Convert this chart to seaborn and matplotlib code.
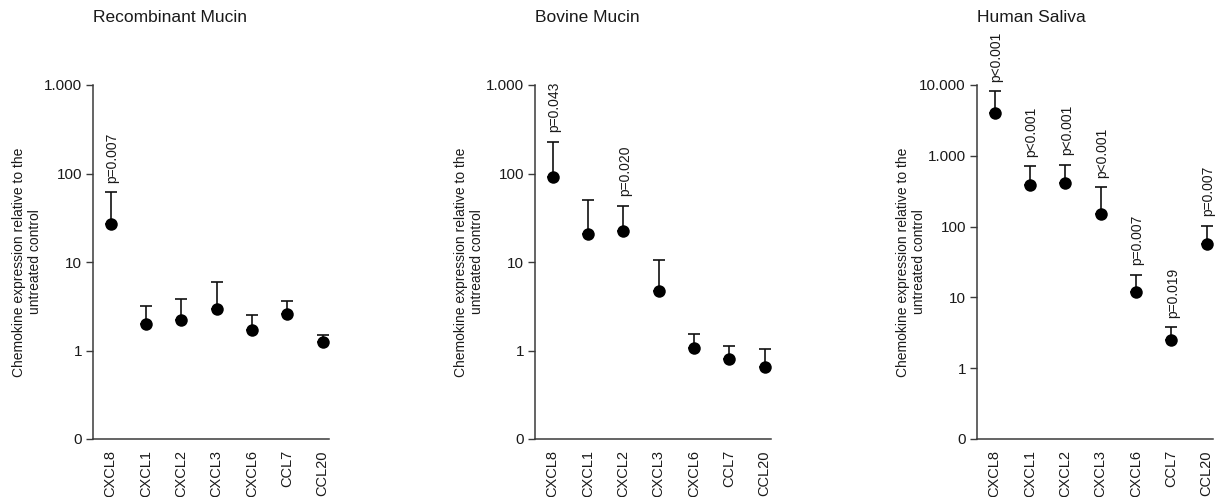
import numpy as np
import pandas as pd
import matplotlib
matplotlib.use("Agg")
import matplotlib.pyplot as plt
from matplotlib.ticker import NullLocator
import seaborn as sns

# ---------------- data ----------------
categories = ["CXCL8", "CXCL1", "CXCL2", "CXCL3", "CXCL6", "CCL7", "CCL20"]

recomb_mean = [27, 2.0, 2.2, 2.95, 1.71, 2.6, 1.25]
recomb_upper = [61, 3.2, 3.8, 5.9, 2.5, 3.6, 1.48]
recomb_p = ["p=0.007", "", "", "", "", "", ""]

bovine_mean = [92, 20.8, 22.4, 4.66, 1.08, 0.81, 0.65]
bovine_upper = [229, 50, 43, 10.5, 1.55, 1.11, 1.03]
bovine_p = ["p=0.043", "", "p=0.020", "", "", "", ""]

saliva_mean = [4070, 382, 417, 152, 11.9, 2.5, 57]
saliva_upper = [8150, 707, 747, 358, 20.6, 3.78, 102]
saliva_p = ["p<0.001", "p<0.001", "p<0.001", "p<0.001", "p=0.007", "p=0.019", "p=0.007"]

titles = ["Recombinant Mucin", "Bovine Mucin", "Human Saliva"]

ticks_small = [0.1, 1, 10, 100, 1000]
ticklabels_small = ["0", "1", "10", "100", "1.000"]
ticks_large = [0.1, 1, 10, 100, 1000, 10000]
ticklabels_large = ["0", "1", "10", "100", "1.000", "10.000"]

ylabel = "Chemokine expression relative to the\nuntreated control"

# ---------------- style ----------------
sns.set_theme(style="ticks")
plt.rcParams["font.family"] = ["Liberation Sans", "DejaVu Sans"]
TXT = "#1a1a1a"
AX = "#3a3a3a"

W, H = 1218, 497
fig = plt.figure(figsize=(W / 100, H / 100), dpi=100)

lefts = [93, 535, 977]
ax_w = 236
ax_top, ax_bot = 85, 439

panels = [
    (recomb_mean, recomb_upper, recomb_p, ticks_small, ticklabels_small),
    (bovine_mean, bovine_upper, bovine_p, ticks_small, ticklabels_small),
    (saliva_mean, saliva_upper, saliva_p, ticks_large, ticklabels_large),
]

for i, (mean, upper, plab, tks, tlabs) in enumerate(panels):
    ax = fig.add_axes([lefts[i] / W, 1 - ax_bot / H, ax_w / W, (ax_bot - ax_top) / H])
    df = pd.DataFrame({"cat": categories, "val": mean})
    ax.set_yscale("log")
    err_lo = np.zeros(len(mean))
    err_hi = np.array(upper) - np.array(mean)
    ax.errorbar(np.arange(len(categories)), mean, yerr=[err_lo, err_hi],
                fmt="none", ecolor="#111111", elinewidth=1.2, capsize=4,
                capthick=1.2, zorder=2)
    sns.stripplot(data=df, x="cat", y="val", ax=ax, jitter=False, color="black",
                  size=9, linewidth=0, zorder=3)
    ax.set_ylim(tks[0], tks[-1])
    ax.set_xlim(-0.5, 6.18)
    ax.set_yticks(tks)
    ax.set_yticklabels(tlabs)
    ax.yaxis.set_minor_locator(NullLocator())
    ax.set_xlabel("")
    ax.set_ylabel(ylabel, fontsize=10, color=TXT, linespacing=1.25)
    ax.yaxis.label.set_va("center")
    ax.yaxis.set_label_coords(-66 / ax_w, 0.5)
    ax.tick_params(axis="y", length=5, width=1.0, color=AX, labelsize=11,
                   labelcolor=TXT, pad=3)
    ax.tick_params(axis="x", length=0, labelsize=10.5, labelcolor=TXT, pad=8,
                   labelrotation=90)
    for s in ["top", "right"]:
        ax.spines[s].set_visible(False)
    for s in ["left", "bottom"]:
        ax.spines[s].set_color(AX)
        ax.spines[s].set_linewidth(1.1)
    for xi, (u, t) in enumerate(zip(upper, plab)):
        if t:
            ax.annotate(t, xy=(xi, u), xytext=(1, 7), textcoords="offset points",
                        rotation=90, ha="center", va="bottom", fontsize=10,
                        color=TXT, annotation_clip=False)
    fig.text(lefts[i] / W, 1 - 18 / H, titles[i], ha="left", va="center",
             fontsize=12.5, color=TXT)

fig.savefig("out.png", dpi=100)
